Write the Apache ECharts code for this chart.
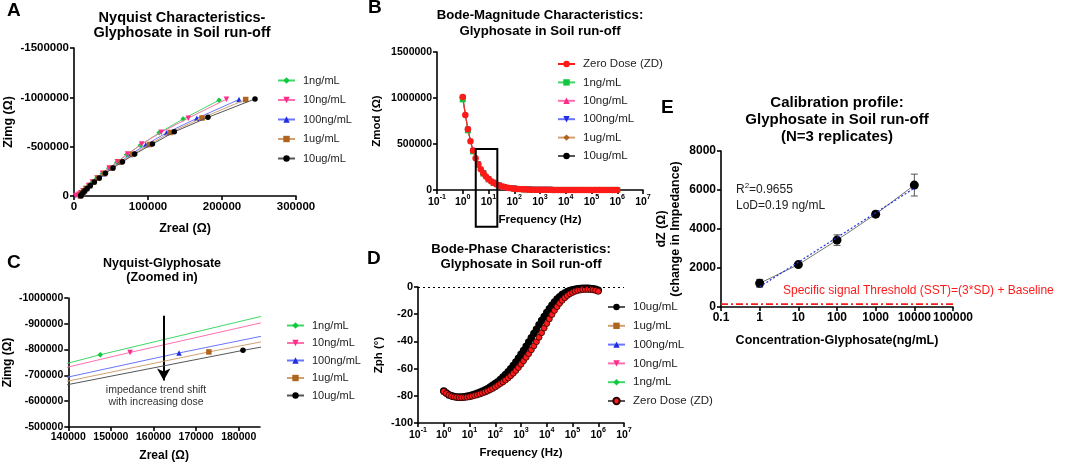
<!DOCTYPE html>
<html>
<head>
<meta charset="utf-8">
<title>Glyphosate in soil run-off</title>
<script src="https://cdn.jsdelivr.net/npm/echarts@6/dist/echarts.min.js"></script>
<style>
  html, body { margin: 0; padding: 0; background: #fff; }
  #main { width: 1072px; height: 464px; }
</style>
</head>
<body>
<div id="main"></div>
<script>
var FONT = '"Liberation Sans", Arial, sans-serif';

// ---------- data ----------
var doses = ['1ng/mL', '10ng/mL', '100ng/mL', '1ug/mL', '10ug/mL'];

// Nyquist points [Zreal, Zimg], low frequency first
var nyq1ng = [[196000,-971000],[147500,-780000],[115000,-640000],[89600,-515000],[71000,-418000],[57700,-340000],[47000,-280000],[38000,-226000],[30600,-179000],[24500,-138000],[19500,-103000],[15500,-74000],[12300,-50000],[10000,-31000],[8500,-17000],[7500,-8000],[7000,-3000]];
var nyq10ng = [[206000,-981000],[154500,-789000],[118000,-647000],[91500,-526000],[72500,-425000],[58500,-346000],[47500,-284000],[38500,-230000],[31000,-183000],[24800,-142000],[19700,-106000],[15500,-76000],[12000,-52000],[9000,-33000],[6500,-18000],[4000,-8000],[2000,-2000]];
var nyq100ng = [[223000,-978000],[166000,-787000],[125000,-640000],[97000,-519000],[76500,-421000],[61500,-342000],[49700,-280000],[40000,-226000],[32200,-180000],[26000,-140000],[21000,-105000],[17000,-75000],[14000,-51000],[11800,-32000],[10200,-17000],[9200,-7000],[8700,-2000]];
var nyq1ug = [[232000,-978000],[173000,-791000],[130000,-644000],[102000,-522000],[79500,-423000],[63500,-344000],[51300,-282000],[41300,-228000],[33200,-181000],[26700,-141000],[21500,-106000],[17300,-76000],[14200,-52000],[11900,-33000],[10300,-18000],[9300,-8000],[8800,-2000]];
var nyq10ug = [[244600,-984000],[181000,-797000],[135500,-650000],[106000,-526000],[82000,-425000],[65500,-346000],[52800,-284000],[42500,-230000],[34200,-183000],[27500,-142000],[22100,-107000],[17800,-77000],[14600,-53000],[12200,-34000],[10600,-18000],[9500,-8000],[9000,-2000]];
var nyqAll = [nyq1ng, nyq10ng, nyq100ng, nyq1ug, nyq10ug];

// Bode frequencies (Hz), 10 per decade
var freq = [1,1.259,1.585,1.995,2.512,3.162,3.981,5.012,6.31,7.943,
  10,12.59,15.85,19.95,25.12,31.62,39.81,50.12,63.1,79.43,
  100,125.9,158.5,199.5,251.2,316.2,398.1,501.2,631,794.3,
  1000,1259,1585,1995,2512,3162,3981,5012,6310,7943,
  10000,12590,15850,19950,25120,31620,39810,50120,63100,79430,
  100000,125900,158500,199500,251200,316200,398100,501200,631000,794300,1000000];
// every second frequency (5 per decade) for the hidden dose curves
var freqHalf = freq.filter(function (f, i) { return i % 2 === 0; });

// Bode magnitude |Z| (ohm)
var zmodZD = [1010000,815000,660000,530000,428000,345000,279000,225000,182000,147000,
  119000,96000,78000,63000,51000,41500,33700,27400,22300,18200,
  14900,12200,10000,8250,6800,5650,4700,3950,3330,2830,
  2430,2100,1840,1630,1460,1330,1220,1140,1080,1030,
  1000,980,965,955,948,944,941,939,937,936,
  935,934,933,932,931,930,929,928,927,926,925];
var zmod1ng = [985000,648000,420000,275000,180000,117000,77000,50500,33200,22100,14800,10000,6900,4800,3400,2500,1900,1500,1250,1100,1010,965,940,928,921,917,914,912,910,909,908];
var zmod10ng = [995000,652000,423000,277000,181000,118000,77500,51000,33500,22300,14900,10100,6950,4850,3450,2530,1920,1520,1260,1110,1020,970,945,932,925,920,917,915,913,912,911];
var zmod100ng = [1000000,655000,425000,278000,182000,118500,78000,51200,33700,22400,15000,10150,7000,4880,3480,2550,1940,1540,1280,1120,1030,975,950,936,928,923,920,918,916,915,914];
var zmod1ug = [1002000,657000,426000,279000,182500,119000,78300,51400,33800,22500,15050,10200,7030,4900,3500,2570,1950,1550,1290,1130,1035,980,954,940,932,927,924,921,919,918,917];
var zmod10ug = [1005000,659000,427000,280000,183000,119300,78500,51600,34000,22600,15100,10250,7060,4920,3520,2580,1960,1560,1300,1140,1040,985,958,944,936,931,928,925,923,922,921];

// Bode phase (deg)
var phZD = [-76.8,-78.3,-79.5,-80.3,-80.8,-81.1,-81.3,-81.3,-81.2,-81.0,
  -80.7,-80.3,-79.8,-79.3,-78.7,-78.0,-77.3,-76.5,-75.6,-74.6,
  -73.5,-72.3,-71.0,-69.8,-68.4,-66.9,-65.2,-63.4,-61.4,-59.2,
  -56.8,-54.3,-51.7,-49.0,-46.2,-43.3,-40.2,-37.0,-33.6,-30.2,
  -26.8,-23.5,-20.3,-17.3,-14.5,-12.0,-9.8,-7.9,-6.3,-5.0,
  -4.0,-3.2,-2.6,-2.2,-1.9,-1.8,-1.8,-1.9,-2.1,-2.5,-3.2];
var ph10ug = [-76.5,-78.0,-79.2,-80.0,-80.5,-80.8,-80.9,-80.9,-80.7,-80.4,
  -80.0,-79.5,-78.9,-78.2,-77.4,-76.6,-75.8,-74.8,-73.6,-72.3,
  -71.0,-69.6,-68.0,-66.2,-64.4,-62.4,-60.2,-57.8,-55.2,-52.4,
  -49.5,-46.6,-43.6,-40.5,-37.4,-34.2,-31.0,-27.8,-24.7,-21.7,
  -18.8,-16.0,-13.4,-11.0,-8.9,-7.1,-5.6,-4.4,-3.4,-2.6,
  -2.0,-1.6,-1.3,-1.1,-1.0,-1.0,-1.0,-1.1,-1.3,-1.7,-2.4];
var ph1ug = [-76.8,-79.6,-80.9,-81.2,-81.0,-80.4,-79.4,-78.1,-76.7,-74.8,-72.4,-69.6,-66.0,-61.6,-56.4,-50.6,-44.5,-38.2,-31.7,-25.0,-18.8,-13.4,-9.0,-5.8,-3.6,-2.2,-1.4,-1.1,-1.1,-1.4,-2.6];
var ph100ng = [-76.9,-79.7,-81.0,-81.3,-81.1,-80.5,-79.6,-78.3,-76.9,-75.0,-72.6,-69.8,-66.2,-61.8,-56.6,-50.9,-44.8,-38.5,-32.0,-25.4,-19.2,-13.8,-9.3,-6.0,-3.8,-2.3,-1.5,-1.2,-1.2,-1.5,-2.7];
var ph10ng = [-76.8,-79.6,-80.9,-81.3,-81.1,-80.6,-79.7,-78.4,-77.0,-75.2,-72.8,-70.0,-66.5,-62.2,-57.1,-51.4,-45.4,-39.2,-32.7,-26.0,-19.8,-14.3,-9.7,-6.3,-4.0,-2.5,-1.6,-1.3,-1.3,-1.6,-2.8];
var ph1ng = [-76.9,-79.7,-81.0,-81.3,-81.1,-80.6,-79.7,-78.5,-77.1,-75.3,-73.0,-70.2,-66.7,-62.4,-57.3,-51.7,-45.7,-39.5,-33.0,-26.4,-20.1,-14.6,-10.0,-6.5,-4.1,-2.6,-1.7,-1.3,-1.3,-1.6,-2.8];

// Calibration (E)
var concE = [1, 10, 100, 1000, 10000];
var dzMean = [1216, 2175, 3430, 4762, 6253];
var dzSD = [200, 70, 270, 140, 560];
var fitConc = [1, 10000];
var fitDz = [1034, 6098];
var sstConc = [0.1, 100000];
var sstDz = [150, 150];

// annotations
var arrowC = [[162400, -931000], [162400, -680000]];
var boxB = [[3.2, 447000], [22, -400000]];

// ---------- styles ----------
var doseColor = ['#10c840', '#ff2a8a', '#1f2fe0', '#b0651e', '#000000'];
var doseLine = ['#3ed866', '#ff70ad', '#6a74ff', '#d2a070', '#555555'];
var nyqSymbol = ['diamond', 'triangle', 'triangle', 'rect', 'circle'];
var nyqRotate = [0, 180, 0, 0, 0];
var bodeSymbol = ['rect', 'triangle', 'triangle', 'diamond', 'circle'];
var bodeRotate = [0, 0, 180, 0, 0];
var RED = '#ff1a1a';

function pairs(xs, ys) { return ys.map(function (y, i) { return [xs[i], y]; }); }
function plain(v) { return String(v); }

function axisBase(fs, nfs) {
  return {
    nameLocation: 'middle',
    axisLine: { show: true, onZero: false, lineStyle: { color: '#000', width: 1.6 } },
    axisTick: { show: true, length: 4, lineStyle: { color: '#000', width: 1.6 } },
    splitLine: { show: false },
    axisLabel: { color: '#000', fontWeight: 'bold', fontSize: fs, fontFamily: FONT, margin: 5, formatter: plain },
    nameTextStyle: { color: '#000', fontWeight: 'bold', fontSize: nfs, fontFamily: FONT, lineHeight: 14 }
  };
}
function ext(a, b) { for (var k in b) a[k] = b[k]; return a; }

function logLabel(fs) {
  return {
    color: '#000', fontFamily: FONT, margin: 4,
    formatter: function (v) { return '{b|10}{s|' + Math.round(Math.log10(v)) + '}'; },
    rich: {
      b: { fontSize: fs, fontWeight: 'bold', fontFamily: FONT, color: '#000', lineHeight: 14, verticalAlign: 'bottom' },
      s: { fontSize: fs * 0.68, fontWeight: 'bold', fontFamily: FONT, color: '#000', lineHeight: 14, verticalAlign: 'top' }
    }
  };
}

var series = [];
var legendA = [], legendB = [], legendC = [], legendD = [];

// A and C: Nyquist
[['A', 0, 5.5], ['C', 2, 5.5]].forEach(function (p) {
  doses.forEach(function (d, k) {
    var name = p[0] + '|' + d;
    series.push({
      name: name, type: 'line', xAxisIndex: p[1], yAxisIndex: p[1],
      data: nyqAll[k], symbol: nyqSymbol[k], symbolRotate: nyqRotate[k], symbolSize: p[2],
      itemStyle: { color: doseColor[k] }, lineStyle: { color: doseLine[k], width: 1 },
      clip: true, z: 2 + k
    });
    (p[0] === 'A' ? legendA : legendC).push(name);
  });
});

// arrow in C
series.push({
  name: 'arrowC', type: 'line', xAxisIndex: 2, yAxisIndex: 2, data: [], silent: true,
  markLine: {
    silent: true, symbol: ['none', 'arrow'], symbolSize: [10, 12], label: { show: false },
    lineStyle: { color: '#000', width: 2, type: 'solid' },
    data: [[{ coord: arrowC[0] }, { coord: arrowC[1] }]]
  }
});

// B: Bode magnitude, ZD drawn on top
var zmodDose = [zmod1ng, zmod10ng, zmod100ng, zmod1ug, zmod10ug];
[4, 3, 2, 1, 0].forEach(function (k) {
  series.push({
    name: 'B|' + doses[k], type: 'line', xAxisIndex: 1, yAxisIndex: 1,
    data: pairs(freqHalf, zmodDose[k]), symbol: bodeSymbol[k], symbolRotate: bodeRotate[k], symbolSize: 6,
    itemStyle: { color: doseColor[k] }, lineStyle: { color: doseLine[k], width: 1 }
  });
});
series.push({
  name: 'B|Zero Dose (ZD)', type: 'line', xAxisIndex: 1, yAxisIndex: 1,
  data: pairs(freq, zmodZD), symbol: 'circle', symbolSize: 6.5,
  itemStyle: { color: RED }, lineStyle: { color: RED, width: 1 }
});
legendB = ['B|Zero Dose (ZD)'].concat(doses.map(function (d) { return 'B|' + d; }));

// D: Bode phase
var phDose = [ph1ng, ph10ng, ph100ng, ph1ug];
[0, 1, 2, 3].forEach(function (k) {
  series.push({
    name: 'D|' + doses[k], type: 'line', xAxisIndex: 3, yAxisIndex: 3,
    data: pairs(freqHalf, phDose[k]), symbol: nyqSymbol[k], symbolRotate: nyqRotate[k], symbolSize: 5.5,
    itemStyle: { color: doseColor[k] }, lineStyle: { color: doseLine[k], width: 1.2 }
  });
});
series.push({
  name: 'D|10ug/mL', type: 'line', xAxisIndex: 3, yAxisIndex: 3,
  data: pairs(freq, ph10ug), symbol: 'circle', symbolSize: 7.5,
  itemStyle: { color: '#000' }, lineStyle: { color: '#555', width: 1 }
});
series.push({
  name: 'D|Zero Dose (ZD)', type: 'line', xAxisIndex: 3, yAxisIndex: 3,
  data: pairs(freq, phZD), symbol: 'circle', symbolSize: 6,
  itemStyle: { color: RED, borderColor: '#2a0000', borderWidth: 0.8 }, lineStyle: { color: '#555', width: 1 },
  markLine: {
    silent: true, symbol: 'none', label: { show: false },
    lineStyle: { color: '#000', width: 1, type: [2, 3] },
    data: [{ yAxis: 0 }]
  }
});
legendD = ['D|10ug/mL', 'D|1ug/mL', 'D|100ng/mL', 'D|10ng/mL', 'D|1ng/mL', 'D|Zero Dose (ZD)'];

// E: calibration
series.push({
  name: 'E|sst', type: 'line', xAxisIndex: 4, yAxisIndex: 4, data: pairs(sstConc, sstDz),
  symbol: 'none', lineStyle: { color: RED, width: 1.6, type: [7, 3, 2, 3] }
});
series.push({
  name: 'E|sd', type: 'custom', xAxisIndex: 4, yAxisIndex: 4,
  data: concE.map(function (c, i) { return [c, dzMean[i] - dzSD[i], dzMean[i] + dzSD[i]]; }),
  encode: { x: 0, y: [1, 2] },
  renderItem: function (params, api) {
    var lo = api.coord([api.value(0), api.value(1)]);
    var hi = api.coord([api.value(0), api.value(2)]);
    var st = { stroke: '#555', lineWidth: 1 };
    return { type: 'group', children: [
      { type: 'line', shape: { x1: lo[0], y1: lo[1], x2: hi[0], y2: hi[1] }, style: st },
      { type: 'line', shape: { x1: lo[0] - 3.5, y1: lo[1], x2: lo[0] + 3.5, y2: lo[1] }, style: st },
      { type: 'line', shape: { x1: hi[0] - 3.5, y1: hi[1], x2: hi[0] + 3.5, y2: hi[1] }, style: st }
    ] };
  }
});
series.push({
  name: 'E|mean', type: 'line', xAxisIndex: 4, yAxisIndex: 4, data: pairs(concE, dzMean),
  symbol: 'circle', symbolSize: 9, itemStyle: { color: '#000' }, lineStyle: { color: '#777', width: 1 }, z: 4
});
series.push({
  name: 'E|fit', type: 'line', xAxisIndex: 4, yAxisIndex: 4, data: pairs(fitConc, fitDz),
  symbol: 'none', lineStyle: { color: '#2233dd', width: 1.2, type: [2, 2] }, z: 5
});

function legendOf(items, left, top, fs, gap) {
  return {
    data: items, orient: 'vertical', left: left, top: top, itemWidth: 17, itemHeight: 8, itemGap: gap,
    selectedMode: false, formatter: function (n) { return n.split('|')[1]; },
    textStyle: { color: '#222', fontSize: fs, fontFamily: FONT, padding: [0, 0, 0, 3] }
  };
}

var logFmtE = function (v) { return v < 1 ? v.toFixed(1) : String(Math.round(v)); };

var option = {
  animation: false,
  backgroundColor: '#fff',
  grid: [
    { left: 74, top: 48, width: 222, height: 148 },
    { left: 437, top: 52, width: 206, height: 138 },
    { left: 64, top: 298, width: 196, height: 130 },
    { left: 418, top: 287, width: 206, height: 136 },
    { left: 721, top: 151, width: 232, height: 156 }
  ],
  xAxis: [
    ext(axisBase(11.5, 12.5), { gridIndex: 0, type: 'value', min: 0, max: 300000, interval: 100000, name: 'Zreal (Ω)', nameGap: 26 }),
    ext(axisBase(10.5, 11.5), { gridIndex: 1, type: 'log', logBase: 10, min: 0.1, max: 10000000, name: 'Frequency (Hz)', nameGap: 23, axisLabel: logLabel(10.5) }),
    ext(axisBase(10.5, 12), { gridIndex: 2, type: 'value', min: 140000, max: 185000, interval: 10000, name: 'Zreal (Ω)', nameGap: 22 }),
    ext(axisBase(11, 11.5), { gridIndex: 3, type: 'log', logBase: 10, min: 0.1, max: 10000000, name: 'Frequency (Hz)', nameGap: 23, axisLabel: logLabel(10.5) }),
    ext(axisBase(12, 12.5), { gridIndex: 4, type: 'log', logBase: 10, min: 0.1, max: 100000, name: 'Concentration-Glyphosate(ng/mL)', nameGap: 27 })
  ],
  yAxis: [
    ext(axisBase(11.5, 12.5), { gridIndex: 0, type: 'value', inverse: true, min: -1500000, max: 0, interval: 500000, name: 'Zimg (Ω)', nameGap: 58 }),
    ext(axisBase(10.5, 11.5), { gridIndex: 1, type: 'value', min: 0, max: 1500000, interval: 500000, name: 'Zmod (Ω)', nameGap: 53 }),
    ext(axisBase(10.5, 12), { gridIndex: 2, type: 'value', inverse: true, min: -1000000, max: -500000, interval: 100000, name: 'Zimg (Ω)', nameGap: 50 }),
    ext(axisBase(11, 11.5), { gridIndex: 3, type: 'value', min: -100, max: 0, interval: 20, name: 'Zph (°)', nameGap: 32 }),
    ext(axisBase(12, 12.5), { gridIndex: 4, type: 'value', min: 0, max: 8000, interval: 2000, name: 'dZ (Ω)\n(change in Impedance)', nameGap: 38 })
  ],
  legend: [
    legendOf(legendA, 272, 70, 11, 8.5),
    legendOf(legendB, 552, 53, 11.5, 6.4),
    legendOf(legendC, 281, 315, 11, 6.5),
    legendOf(legendD, 602, 296, 11.5, 6.8)
  ],
  series: series,
  graphic: { elements: [] }
};
option.xAxis[4].axisLabel.formatter = logFmtE;

function txt(id, x, y, text, size, weight, align, vAlign, color, lh) {
  return { id: id, type: 'text', x: x, y: y, silent: true, style: {
    text: text, fill: color || '#000', fontSize: size, fontWeight: weight, fontFamily: FONT,
    align: align, verticalAlign: vAlign, lineHeight: lh || size + 2 } };
}
option.graphic.elements = [
  txt('tA', 182, 10, 'Nyquist Characteristics-\nGlyphosate in Soil run-off', 14.5, 'bold', 'center', 'top', '#000', 15.5),
  txt('tB', 540, 7, 'Bode-Magnitude Characteristics:\nGlyphosate in Soil run-off', 13.2, 'bold', 'center', 'top', '#000', 16.5),
  txt('tC', 162, 256, 'Nyquist-Glyphosate\n(Zoomed in)', 12.5, 'bold', 'center', 'top', '#000', 14.5),
  txt('tD', 521, 241.5, 'Bode-Phase Characteristics:\nGlyphosate in Soil run-off', 13.2, 'bold', 'center', 'top', '#000', 15),
  txt('tE', 837, 94.5, 'Calibration profile:\nGlyphosate in Soil run-off\n(N=3 replicates)', 15, 'bold', 'center', 'top', '#000', 17),
  txt('lA', 7, 11, 'A', 19, 'bold', 'left', 'middle'),
  txt('lB', 368, 8, 'B', 19, 'bold', 'left', 'middle'),
  txt('lC', 7, 263, 'C', 19, 'bold', 'left', 'middle'),
  txt('lD', 367, 259, 'D', 19, 'bold', 'left', 'middle'),
  txt('lE', 661, 108, 'E', 19, 'bold', 'left', 'middle'),
  txt('ann', 156, 384, 'impedance trend shift\nwith increasing dose', 10.5, 'normal', 'center', 'top', '#333', 12),
  txt('lod', 736, 206, 'LoD=0.19 ng/mL', 12, 'normal', 'left', 'middle', '#222'),
  txt('sst', 783, 291, 'Specific signal Threshold (SST)=(3*SD) + Baseline', 12, 'normal', 'left', 'middle', RED),
  { id: 'r2', type: 'text', x: 736, y: 189, silent: true, style: {
    text: '{a|R}{s|2}{a|=0.9655}', verticalAlign: 'middle', align: 'left',
    rich: {
      a: { fontSize: 12, fontFamily: FONT, fill: '#222', lineHeight: 14, verticalAlign: 'bottom' },
      s: { fontSize: 8, fontFamily: FONT, fill: '#222', lineHeight: 14, verticalAlign: 'top' }
    } } }
];

var chart = echarts.init(document.getElementById('main'));
chart.setOption(option);

// zoom box on panel B, placed from data coordinates
var b0 = chart.convertToPixel({ gridIndex: 1 }, boxB[0]);
var b1 = chart.convertToPixel({ gridIndex: 1 }, boxB[1]);
chart.setOption({ graphic: { elements: [{
  id: 'boxB', type: 'rect', silent: true, z: 100,
  shape: { x: b0[0], y: b0[1], width: b1[0] - b0[0], height: b1[1] - b0[1] },
  style: { fill: 'none', stroke: '#000', lineWidth: 2 }
}] } });
</script>
</body>
</html>
